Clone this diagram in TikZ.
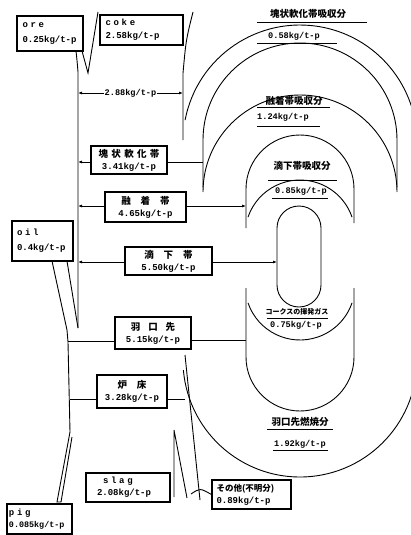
\documentclass[tikz,border=0pt]{standalone}
\usepackage{fontspec}
\setmainfont{Liberation Serif}
\newfontfamily\jpf{Noto Sans CJK JP}
\newfontfamily\jpw{Noto Sans CJK JP}[LetterSpace=35]
\newfontfamily\monof{Liberation Mono}
\newfontfamily\monow{Liberation Mono}[LetterSpace=30]
\newcommand\vf{\monof\bfseries\fontsize{9}{11}\selectfont}
\newcommand\sv{\monof\bfseries\fontsize{8.6}{11}\selectfont}
\newcommand\nm{\monow\bfseries\fontsize{9}{11}\selectfont}
\newcommand\jb{\jpf\bfseries\fontsize{9.5}{11}\selectfont}
\newcommand\jw{\jpw\bfseries\fontsize{9.5}{11}\selectfont}
\usetikzlibrary{arrows.meta}
\begin{document}
\begin{tikzpicture}[x=1pt,y=-1pt,
  ln/.style={line width=0.9pt},
  box/.style={draw, line width=1.1pt, fill=white, inner sep=2pt, align=center},
  lbox/.style={box, align=left, inner xsep=5pt},
  arr/.style={ln, -{Latex[length=4pt,width=3pt]}},
  dim/.style={ln, {Latex[length=4pt,width=3pt]}-{Latex[length=4pt,width=3pt]}},
  lab/.style={inner sep=0pt}]
\useasboundingbox (0,0) rectangle (411,535);
\clip (0,0) rectangle (411,535);

% ---------- key coordinates ----------
\coordinate (Ltop) at (76,51);
\coordinate (Lbend) at (78,72);
\coordinate (Lend) at (78,328);
\coordinate (Vore) at (82,51);
\coordinate (Vbot) at (88,73);
\coordinate (Vtop) at (98,12);
\coordinate (Rtop) at (193,12);
\coordinate (Rbend) at (183,73);
\coordinate (Rend) at (183,140);
\coordinate (dimL) at (78,93);
\coordinate (dimR) at (183,93);
\coordinate (Bv) at (203,140);
\coordinate (Eleft) at (246,189);
\coordinate (ovalL) at (277,228);
\coordinate (Uleft) at (246,288);
\coordinate (Rline) at (185,355);
\coordinate (Rlow) at (200,500);
\coordinate (oilL) at (52,261);
\coordinate (oilR) at (67,261);
\coordinate (oilM) at (67,330);
\coordinate (L2) at (68,342);
\coordinate (L3) at (70,432);
\coordinate (pigA) at (57,502);
\coordinate (pigB) at (61,502);
\coordinate (pigT) at (72,437);
\coordinate (slT) at (174,430);
\coordinate (slA) at (174,497);
\coordinate (slB) at (187,498);
\coordinate (soEnd) at (191,494);

% ---------- right-hand bands ----------
\draw[ln] (185.1,120.1) arc[start angle=190.8, end angle=365, radius=117];
\draw[ln] (203,187) -- (Bv) arc[start angle=180, end angle=360, radius=97] -- (397,187);
\draw[ln] (203,192) arc[start angle=180, end angle=360, radius=97];
\draw[ln] (246,228) -- (Eleft) arc[start angle=180, end angle=360, radius=54] -- (354,223);
\draw[ln] (248,217.1) arc[start angle=199, end angle=341, radius=55];
\draw[ln] (ovalL) arc[start angle=180, end angle=360, radius=22] -- (321,285)
  arc[start angle=0, end angle=180, radius=22] -- cycle;
\draw[ln] (248,302.9) arc[start angle=161, end angle=19, radius=55];
\draw[ln] (Uleft) -- (246,357) arc[start angle=180, end angle=0, radius=54] -- (354,288);
\draw[ln] (183.4,370.2) arc[start angle=175, end angle=-5, radius=117];

% ---------- left flow lines ----------
\draw[ln] (Ltop) .. controls (77,60) .. (Lbend) -- (Lend);
\draw[ln] (Vore) -- (Vbot) -- (Vtop);
\draw[ln] (Rtop) .. controls (186,40) .. (Rbend) -- (Rend);
\draw[dim] (dimL) -- (dimR) node[midway, fill=white, inner sep=1pt] (d288) {\sv 2.88kg/t-p};
\draw[ln] (oilL) -- (oilM) -- (L2) -- (L3);
\draw[ln] (oilR) -- (Lend);
\draw[ln] (L3) -- (pigA) -- (pigB) -- (pigT);
\draw[ln] (Rline) -- (Rlow);
\draw[ln] (slA) -- (slT) -- (slB);

% ---------- boxes ----------
\node[lbox, minimum width=66pt, minimum height=35pt, text width=55pt] (ore) at (50,33.5)
  {{\nm ore}\\[3pt]{\vf 0.25kg/t-p}};
\node[lbox, minimum width=83pt, minimum height=30pt, text width=72pt] (coke) at (141.5,30)
  {{\nm coke}\\[1pt]{\vf 2.58kg/t-p}};
\node[box, minimum width=76pt, minimum height=28pt] (kaijo) at (129,160)
  {{\jw 塊状軟化帯}\\{\vf 3.41kg/t-p}};
\node[box, minimum width=81pt, minimum height=30pt] (yuchaku) at (145.5,207)
  {{\jb 融\hspace{10pt}着\hspace{10pt}帯}\\{\vf 4.65kg/t-p}};
\node[box, minimum width=87pt, minimum height=28pt] (tekika) at (168.5,261)
  {{\jb 滴\hspace{10pt}下\hspace{10pt}帯}\\{\vf 5.50kg/t-p}};
\node[lbox, minimum width=61pt, minimum height=40pt, text width=51pt] (oil) at (42.5,241)
  {{\nm oil}\\[3pt]{\vf 0.4kg/t-p}};
\node[box, minimum width=76pt, minimum height=32pt] (haguchi) at (153,333)
  {{\jb 羽\hspace{8pt}口\hspace{8pt}先}\\{\vf 5.15kg/t-p}};
\node[box, minimum width=70pt, minimum height=33pt] (rosho) at (132,391.5)
  {{\jb 炉\hspace{10pt}床}\\{\vf 3.28kg/t-p}};
\node[lbox, minimum width=84pt, minimum height=29pt, text width=62pt, inner xsep=11pt] (slag) at (128,487.5)
  {\hspace{6pt}{\nm slag}\\{\vf 2.08kg/t-p}};
\node[lbox, minimum width=65pt, minimum height=30pt, text width=61pt, inner xsep=2pt] (pig) at (39.5,519)
  {{\nm pig}\\{\monof\bfseries\fontsize{8.4}{10}\selectfont 0.085kg/t-p}};
\node[lbox, minimum width=79pt, minimum height=29pt, text width=70pt, inner xsep=4pt] (sonota) at (251.5,494.5)
  {{\jpf\bfseries\fontsize{8.5}{10}\selectfont その他(不明分)}\\{\vf 0.89kg/t-p}};

% ---------- box connections ----------
\draw[arr] ([yshift=-2pt]kaijo.west) -- ([yshift=-2pt]kaijo.west -| Lbend);
\draw[ln] ([yshift=-2pt]kaijo.east) -- ([yshift=-2pt]kaijo.east -| Bv);
\draw[arr] ([yshift=1pt]yuchaku.west) -- ([yshift=1pt]yuchaku.west -| Lbend);
\draw[arr] ([yshift=1pt]yuchaku.east) -- ([yshift=1pt]yuchaku.east -| Eleft);
\draw[arr] ([yshift=-1pt]tekika.west) -- ([yshift=-1pt]tekika.west -| Lbend);
\draw[arr] ([yshift=-1pt]tekika.east) -- ([yshift=-1pt]tekika.east -| ovalL);
\draw[ln] ([yshift=-8pt]haguchi.west) -- ([yshift=-8pt]haguchi.west -| L2);
\draw[ln] ([yshift=-7pt]haguchi.east) -- ([yshift=-7pt]haguchi.east -| Uleft);
\draw[ln] ([yshift=-7.5pt]rosho.west) -- ([yshift=-7.5pt]rosho.west -| L3);
\draw[ln] ([yshift=-7.5pt]rosho.east) -- ([yshift=-7.5pt]rosho.east -| Rline);
\draw[ln] (sonota.west) .. controls (200,488) .. (soEnd);

% ---------- band labels ----------
\node[lab] (t1) at (308,14) {\jb 塊状軟化帯吸収分};
\draw[ln] (257,22) -- (367,22);
\node[lab] (v1) at (294,36) {\sv 0.58kg/t-p};
\draw[ln] (257,43) -- (337,43);
\node[lab] (t2) at (294,101) {\jb 融着帯吸収分};
\draw[ln] (257,107) -- (330,107);
\node[lab] (v2) at (283,117) {\sv 1.24kg/t-p};
\draw[ln] (257,126) -- (320,126);
\node[lab] (t3) at (302,166) {\jb 滴下帯吸収分};
\draw[ln] (268,180) -- (337,180);
\node[lab] (v3) at (301,191) {\sv 0.85kg/t-p};
\draw[ln] (272,198) -- (328,198);
\node[lab] (t4) at (297,312) {\jpf\bfseries\fontsize{7}{8}\selectfont コークスの揮発ガス};
\draw[ln] (267,318) -- (328,318);
\node[lab] (v4) at (296,325) {\sv 0.75kg/t-p};
\node[lab] (t5) at (300,422) {\jb 羽口先燃焼分};
\draw[ln] (267,429) -- (333,429);
\node[lab] (v5) at (300,444) {\sv 1.92kg/t-p};
\draw[ln] (273,450) -- (328,450);
\end{tikzpicture}
\end{document}
